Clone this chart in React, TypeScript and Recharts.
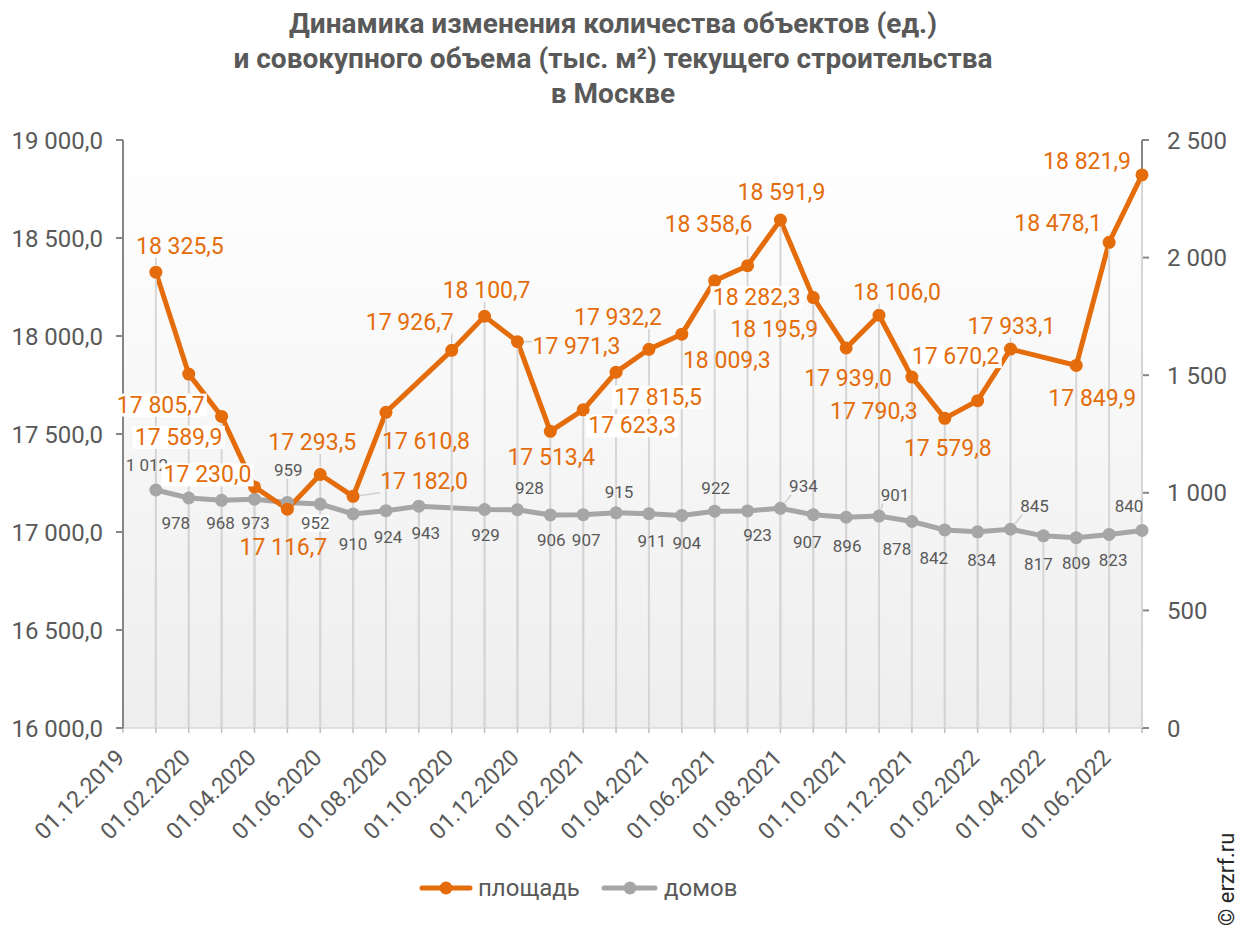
import React from "react";
import { ComposedChart, Line, XAxis, YAxis, CartesianGrid } from "recharts";

// monthly dates of the observations
const DATES = [
  "01.01.2020", "01.02.2020", "01.03.2020", "01.04.2020", "01.05.2020", "01.06.2020",
  "01.07.2020", "01.08.2020", "01.09.2020", "01.10.2020", "01.11.2020", "01.12.2020",
  "01.01.2021", "01.02.2021", "01.03.2021", "01.04.2021", "01.05.2021", "01.06.2021",
  "01.07.2021", "01.08.2021", "01.09.2021", "01.10.2021", "01.11.2021", "01.12.2021",
  "01.01.2022", "01.02.2022", "01.03.2022", "01.04.2022", "01.05.2022", "01.06.2022",
  "01.07.2022",
];

// площадь, тыс. м² (left axis)
const AREA = [
  18325.5, 17805.7, 17589.9, 17230.0, 17116.7, 17293.5, 17182.0, 17610.8, null, 17926.7, 18100.7, 17971.3,
  17513.4, 17623.3, 17815.5, 17932.2, 18009.3, 18282.3, 18358.6, 18591.9, 18195.9, 17939.0, 18106.0, 17790.3,
  17579.8, 17670.2, 17933.1, null, 17849.9, 18478.1, 18821.9,
];

// домов, ед. (right axis)
const HOUSES = [
  1012, 978, 968, 973, 959, 952, 910, 924, 943, null, 929, 928,
  906, 907, 915, 911, 904, 922, 923, 934, 907, 896, 901, 878,
  842, 834, 845, 817, 809, 823, 840,
];

const X_TICK_LABELS = [
  "01.12.2019", "01.02.2020", "01.04.2020", "01.06.2020", "01.08.2020", "01.10.2020",
  "01.12.2020", "01.02.2021", "01.04.2021", "01.06.2021", "01.08.2021", "01.10.2021",
  "01.12.2021", "01.02.2022", "01.04.2022", "01.06.2022",
];
const LEFT_TICKS = [16000, 16500, 17000, 17500, 18000, 18500, 19000];
const RIGHT_TICKS = [0, 500, 1000, 1500, 2000, 2500];

const TITLE = [
  "Динамика изменения количества объектов (ед.)",
  "и совокупного объема (тыс. м²) текущего строительства",
  "в Москве",
];

const ORANGE = "#E46C0A";
const GRAY = "#A6A6A6";
const TEXT = "#595959";
const FONT = "Roboto, 'Noto Sans', sans-serif";

const W = 1238;
const H = 929;
const TOP = 140;
const X_AXIS_H = 201;
const PLOT_BOTTOM = H - X_AXIS_H;

// label placement relative to the point: [dx, dy, leader line, white box]
type Pos = [number, number, boolean?, boolean?] | null;
const AREA_LABEL_POS: Pos[] = [
  [24, -26, true], [-28, 31, true, true], [-43, 21, false, true], [-47, -12, false, true],
  [-4, 38], [-8, -32, true], [71, -15, true], [40, 29, true], null, [-42, -28, true],
  [2, -26, true], [59, 5, true], [1, 26], [49, 16, false, true], [42, 25, false, true],
  [-31, -32, true], [45, 26], [42, 17, false, true], [-39, -41, true], [1, -27],
  [-39, 32, true], [2, 31], [18, -23, true], [-38, 34, true], [3, 30],
  [-22, -44, true, true], [1, -23, true], null, [16, 33], [-51, -19], [-55, -13],
];
const HOUSES_LABEL_POS: Pos[] = [
  [-9, -25, true], [-13, 25], [-1, 23], [1, 24], [1, -32, true], [-5, 19, false, true],
  [0, 30], [2, 26], [7, 27, true], null, [1, 26], [12, -22, true],
  [1, 25], [3, 25], [3, -21, true], [3, 27], [5, 28], [1, -23],
  [10, 24], [23, -22, true], [-6, 27], [1, 29], [16, -21, true], [-15, 28],
  [-11, 28], [4, 28], [24, -23, true], [-5, 28], [0, 25], [4, 26], [-13, -24, true],
];

const monthIndex = (d: string) => {
  const [, mm, yyyy] = d.split(".");
  return (Number(yyyy) - 2019) * 12 + Number(mm) - 12;
};

const data = DATES.map((d, i) => ({
  m: monthIndex(d),
  date: d,
  area: AREA[i],
  houses: HOUSES[i],
}));

const MONTH_TICKS = Array.from({ length: 32 }, (_, i) => i);

const group = (s: string) => s.replace(/\B(?=(\d{3})+(?!\d))/g, "\u00a0");
const fmt1 = (v: number) => {
  const [i, d] = v.toFixed(1).split(".");
  return group(i) + "," + d;
};
const fmt0 = (v: number) => group(String(Math.round(v)));

const XTick = (props: any) => {
  const { x, y, payload } = props;
  const m = payload.value;
  const label = m % 2 === 0 ? X_TICK_LABELS[m / 2] : undefined;
  if (!label) return <g />;
  const ax = x + 3;
  const ay = y + 24;
  return (
    <text
      x={ax}
      y={ay}
      transform={`rotate(-45, ${ax}, ${ay})`}
      textAnchor="end"
      fill={TEXT}
      fontSize={23}
      fontFamily={FONT}
    >
      {label}
    </text>
  );
};

const dropLine = (key: "area" | "houses") => (props: any) => {
  const { cx, cy, index, payload } = props;
  if (payload?.[key] == null || cx == null || cy == null) return <g key={`d-${key}-${index}`} />;
  return (
    <line
      key={`d-${key}-${index}`}
      x1={cx}
      y1={cy}
      x2={cx}
      y2={PLOT_BOTTOM}
      stroke="#d6d6d6"
      strokeWidth={2}
    />
  );
};

const pointLabel =
  (key: "area" | "houses", positions: Pos[], fmt: (v: number) => string, color: string, size: number) =>
  (props: any) => {
    const { cx, cy, index, payload } = props;
    const value = payload?.[key];
    const pos = positions[index];
    if (value == null || cx == null || cy == null || !pos) return <g key={`l-${key}-${index}`} />;
    const [dx, dy, leader, box] = pos;
    const text = fmt(value);
    const w = text.length * size * 0.48;
    const h = size * 1.0;
    const lx = cx + dx;
    const ly = cy + dy;
    const bx0 = lx - w / 2;
    const bx1 = lx + w / 2;
    const by0 = ly - h / 2;
    const by1 = ly + h / 2;
    let leaderEl = null;
    if (leader) {
      const ex = Math.min(Math.max(cx, bx0), bx1);
      const ey = Math.min(Math.max(cy, by0), by1);
      const len = Math.hypot(ex - cx, ey - cy);
      if (len > 9) {
        const sx = cx + ((ex - cx) / len) * 7;
        const sy = cy + ((ey - cy) / len) * 7;
        leaderEl = <line x1={sx} y1={sy} x2={ex} y2={ey} stroke="#cfcfcf" strokeWidth={1.5} />;
      }
    }
    return (
      <g key={`l-${key}-${index}`}>
        {leaderEl}
        {box && <rect x={bx0 - 2} y={by0} width={w + 4} height={h} fill="#ffffff" />}
        <text
          x={lx}
          y={ly}
          textAnchor="middle"
          dominantBaseline="central"
          fontSize={size}
          fill={color}
          fontFamily={FONT}
        >
          {text}
        </text>
      </g>
    );
  };

export default function App() {
  return (
    <div style={{ position: "absolute", left: 0, top: 0, width: W, height: H, background: "#fff", fontFamily: FONT }}>
      <ComposedChart width={W} height={H} data={data} margin={{ top: TOP, right: 0, bottom: 0, left: 0 }}>
        <defs>
          <linearGradient id="plotBg" x1="0" y1="0" x2="0" y2="1">
            <stop offset="0%" stopColor="#ffffff" />
            <stop offset="100%" stopColor="#eeeeee" />
          </linearGradient>
        </defs>
        <CartesianGrid
          yAxisId="left"
          horizontal={false}
          vertical={false}
          fill="url(#plotBg)"
          fillOpacity={1}
          stroke="none"
        />
        <XAxis
          dataKey="m"
          type="number"
          domain={[0, 31]}
          ticks={MONTH_TICKS}
          interval={0}
          height={X_AXIS_H}
          tick={<XTick />}
          tickSize={5}
          tickLine={{ stroke: "#bfbfbf", strokeWidth: 1.5 }}
          axisLine={{ stroke: "#d9d9d9", strokeWidth: 1.5 }}
        />
        <YAxis
          yAxisId="left"
          orientation="left"
          width={123}
          domain={[16000, 19000]}
          ticks={LEFT_TICKS}
          interval={0}
          tickFormatter={fmt1}
          tick={{ fill: TEXT, fontSize: 24, fontFamily: FONT }}
          tickSize={7}
          tickMargin={13}
          tickLine={{ stroke: "#868686", strokeWidth: 2 }}
          axisLine={{ stroke: "#868686", strokeWidth: 2 }}
        />
        <YAxis
          yAxisId="right"
          orientation="right"
          width={96}
          domain={[0, 2500]}
          ticks={RIGHT_TICKS}
          interval={0}
          tickFormatter={fmt0}
          tick={{ fill: TEXT, fontSize: 24, fontFamily: FONT }}
          tickSize={7}
          tickMargin={18}
          tickLine={{ stroke: "#868686", strokeWidth: 2 }}
          axisLine={{ stroke: "#868686", strokeWidth: 2 }}
        />

        {/* drop lines */}
        <Line yAxisId="right" dataKey="houses" stroke="none" connectNulls dot={dropLine("houses")} activeDot={false} legendType="none" isAnimationActive={false} />
        <Line yAxisId="left" dataKey="area" stroke="none" connectNulls dot={dropLine("area")} activeDot={false} legendType="none" isAnimationActive={false} />

        <Line
          yAxisId="right"
          dataKey="houses"
          name="домов"
          stroke={GRAY}
          strokeWidth={5}
          connectNulls
          dot={{ r: 6.5, fill: GRAY, stroke: GRAY, strokeWidth: 0 }}
          activeDot={false}
          isAnimationActive={false}
        />
        <Line
          yAxisId="left"
          dataKey="area"
          name="площадь"
          stroke={ORANGE}
          strokeWidth={5}
          connectNulls
          dot={{ r: 6.5, fill: ORANGE, stroke: ORANGE, strokeWidth: 0 }}
          activeDot={false}
          isAnimationActive={false}
        />

        {/* data labels */}
        <Line yAxisId="right" dataKey="houses" stroke="none" connectNulls dot={pointLabel("houses", HOUSES_LABEL_POS, fmt0, TEXT, 17)} activeDot={false} legendType="none" isAnimationActive={false} />
        <Line yAxisId="left" dataKey="area" stroke="none" connectNulls dot={pointLabel("area", AREA_LABEL_POS, fmt1, ORANGE, 23)} activeDot={false} legendType="none" isAnimationActive={false} />
      </ComposedChart>

      <svg width={W} height={H} style={{ position: "absolute", left: 0, top: 0, pointerEvents: "none" }}>
        {TITLE.map((t, i) => (
          <text
            key={t}
            x={613}
            y={23 + i * 35}
            textAnchor="middle"
            dominantBaseline="central"
            fontSize={28}
            fontWeight={700}
            fill={TEXT}
            fontFamily={FONT}
          >
            {t}
          </text>
        ))}
        <line x1={422} y1={888} x2={470} y2={888} stroke={ORANGE} strokeWidth={5} strokeLinecap="round" />
        <circle cx={446} cy={888} r={6.5} fill={ORANGE} />
        <text x={478} y={888} dominantBaseline="central" fontSize={24} fill={TEXT} fontFamily={FONT}>
          площадь
        </text>
        <line x1={604} y1={888} x2={655} y2={888} stroke={GRAY} strokeWidth={5} strokeLinecap="round" />
        <circle cx={630} cy={888} r={6.5} fill={GRAY} />
        <text x={664} y={888} dominantBaseline="central" fontSize={24} fill={TEXT} fontFamily={FONT}>
          домов
        </text>
        <text
          x={1234}
          y={926}
          transform="rotate(-90, 1234, 926)"
          fontSize={22}
          fill="#262626"
          fontFamily={FONT}
        >
          © erzrf.ru
        </text>
      </svg>
    </div>
  );
}
